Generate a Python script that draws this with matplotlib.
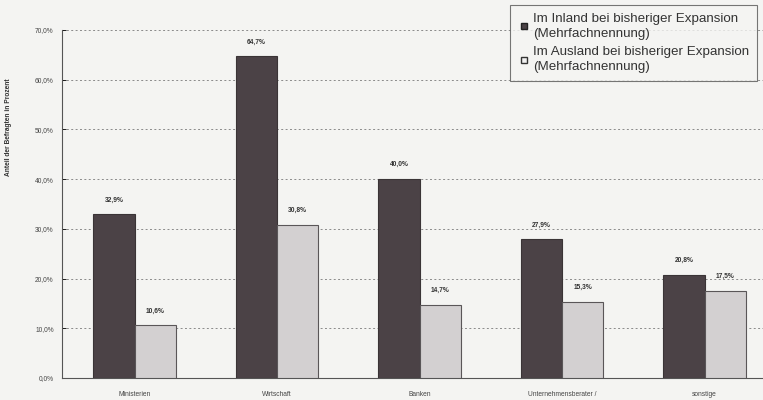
import numpy as np
import matplotlib.pyplot as plt
from matplotlib.lines import Line2D

plt.rcParams['font.family'] = ['Liberation Sans', 'DejaVu Sans']

# data (percent)
kategorien = ["Ministerien", "Wirtschaft", "Banken", "Unternehmensberater /", "sonstige"]
inland = [32.9, 64.7, 40.0, 27.9, 20.8]
ausland = [10.6, 30.8, 14.7, 15.3, 17.5]
legende = ["Im Inland bei bisheriger Expansion\n(Mehrfachnennung)",
           "Im Ausland bei bisheriger Expansion\n(Mehrfachnennung)"]

dunkel = '#4b4246'
hell = '#d3d0d1'
bg = '#f4f4f2'

fig = plt.figure(figsize=(7.63, 4.0), dpi=100, facecolor=bg)
ax = fig.add_axes([62 / 763, 22 / 400, 701 / 763, 348 / 400])
ax.set_facecolor(bg)

x = np.arange(len(kategorien))
w = 0.29
b1 = ax.bar(x - w / 2, inland, w, color=dunkel, edgecolor='#3a3436', linewidth=0.8, zorder=3)
b2 = ax.bar(x + w / 2, ausland, w, color=hell, edgecolor='#5a5658', linewidth=0.8, zorder=3)

for bars, vals in [(b1, inland), (b2, ausland)]:
    for r, v in zip(bars, vals):
        ax.text(r.get_x() + r.get_width() / 2, v + 2.2, ("%.1f%%" % v).replace('.', ','),
                ha='center', va='bottom', fontsize=4.8, fontweight='bold', color='#333333')

ax.set_xlim(-0.51, 4.41)
ax.set_ylim(0, 70)
ax.set_yticks(np.arange(0, 71, 10))
ax.set_yticklabels([("%.1f%%" % t).replace('.', ',') for t in np.arange(0, 71, 10)],
                   fontsize=4.8, color='#444444')
ax.set_xticks(x)
ax.set_xticklabels(kategorien, fontsize=4.8, color='#444444')
ax.tick_params(axis='x', length=0, pad=9)
ax.tick_params(axis='y', length=3, width=0.6, direction='in', pad=6)
ax.yaxis.grid(True, linestyle=(0, (2, 2.5)), color='#8a8a8a', linewidth=0.7, zorder=0)
ax.spines['top'].set_visible(False)
ax.spines['right'].set_visible(False)
ax.spines['left'].set_color('#555555')
ax.spines['bottom'].set_color('#555555')

ax.set_ylabel("Anteil der Befragten in Prozent", fontsize=4.8, fontweight='bold',
              color='#333333')
ax.yaxis.set_label_coords(-0.072, 0.72)

handles = [Line2D([], [], marker='s', linestyle='', markersize=5,
                  markerfacecolor=dunkel, markeredgecolor='#222222'),
           Line2D([], [], marker='s', linestyle='', markersize=5,
                  markerfacecolor='#f0f0f0', markeredgecolor='#333333')]
leg = fig.legend(handles, legende, loc='upper right', bbox_to_anchor=(757 / 763, 1 - 5 / 400),
                 fontsize=9.6, frameon=True, fancybox=False, handlelength=0.8,
                 handletextpad=0.3, labelspacing=0.45, borderpad=0.6,
                 borderaxespad=0)
leg.get_frame().set_edgecolor('#555555')
leg.get_frame().set_linewidth(0.8)
leg.get_frame().set_facecolor(bg)
for t in leg.get_texts():
    t.set_color('#333333')
    t.set_linespacing(1.35)

fig.savefig('out.png', dpi=100, facecolor=bg)
